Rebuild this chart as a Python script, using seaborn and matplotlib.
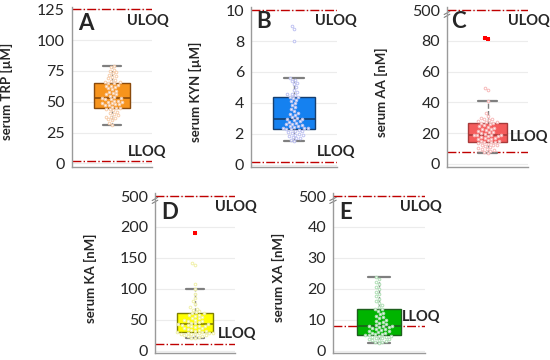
import numpy as np
import pandas as pd
import matplotlib
matplotlib.use("Agg")
import matplotlib.pyplot as plt
import seaborn as sns

# data
trp = [31, 33, 35, 36, 37, 38, 38, 39, 40, 41, 42, 43, 44, 44, 45,
       45, 46, 47, 47, 48, 48, 49, 49, 50, 50, 51, 51, 52, 52, 53,
       53, 54, 55, 56, 56, 57, 58, 59, 60, 61, 62, 63, 63, 64, 65,
       65, 66, 66, 67, 68, 69, 70, 71, 72, 73, 74, 75, 76, 78, 79]
kyn = [1.5, 1.6, 1.7, 1.75, 1.8, 1.85, 1.9, 1.95, 2.0, 2.05, 2.1, 2.15, 2.2, 2.25, 2.3,
       2.3, 2.35, 2.4, 2.4, 2.45, 2.5, 2.5, 2.55, 2.6, 2.65, 2.7, 2.75, 2.8, 2.9, 2.95,
       2.95, 3.0, 3.1, 3.2, 3.3, 3.35, 3.45, 3.6, 3.7, 3.85, 4.0, 4.1, 4.2, 4.3, 4.4,
       4.4, 4.5, 4.55, 4.6, 4.7, 4.8, 5.0, 5.2, 5.3, 5.4, 5.5, 5.6, 8.0, 8.8, 9.0]
aa = [7, 8, 8.5, 9, 9.5, 10, 10.5, 11, 11.5, 12, 12, 12.5, 13, 13.5, 14,
      14, 14.5, 15, 15, 15.5, 16, 16.5, 17, 17, 17.5, 18, 18, 18.5, 19, 19,
      19, 19.5, 20, 20.5, 21, 21.5, 22, 22.5, 23, 23.5, 24, 24.5, 25, 26, 26.5,
      26.5, 27, 27.5, 28, 28.5, 29, 29.5, 30, 31, 33, 41, 48, 49.5, 81, 82]
ka = [20, 21, 22, 23, 24, 25, 25, 26, 27, 27, 28, 28, 29, 29, 30,
      30, 31, 32, 33, 34, 35, 36, 37, 38, 39, 40, 40, 41, 42, 43,
      43, 44, 45, 46, 47, 48, 49, 50, 52, 53, 55, 56, 57, 58, 60,
      60, 62, 64, 66, 68, 70, 75, 80, 85, 92, 100, 107, 138, 141, 191]
xa = [2.3, 2.6, 2.9, 3.1, 3.3, 3.5, 3.7, 3.8, 4.0, 4.2, 4.3, 4.5, 4.7, 4.8, 5.0,
      5.0, 5.2, 5.4, 5.6, 5.8, 6.0, 6.2, 6.4, 6.7, 6.9, 7.1, 7.3, 7.5, 7.7, 7.8,
      7.8, 8.0, 8.3, 8.6, 9.0, 9.3, 9.7, 10.0, 10.4, 10.8, 11.2, 11.7, 12.2, 12.8, 13.3,
      13.3, 14.0, 14.6, 15.3, 16.0, 16.8, 17.5, 18.2, 19.0, 19.8, 20.6, 21.4, 22.2, 23.0, 23.7]

series = [trp, kyn, aa, ka, xa]
letters = ["A", "B", "C", "D", "E"]
y_labels = ["serum TRP [µM]", "serum KYN [µM]", "serum AA [nM]", "serum KA [nM]", "serum XA [nM]"]
lloq = [2, 0.2, 8, 10, 8]
# y ticks; the top tick of C, D, E stands for the ULOQ beyond an axis break
tick_pos = [[0, 25, 50, 75, 100, 125],
            [0, 2, 4, 6, 8, 10],
            [0, 20, 40, 60, 80, 100],
            [0, 50, 100, 150, 200, 250],
            [0, 10, 20, 30, 40, 50]]
tick_labels = [["0", "25", "50", "75", "100", "125"],
               ["0", "2", "4", "6", "8", "10"],
               ["0", "20", "40", "60", "80", "500"],
               ["0", "50", "100", "150", "200", "500"],
               ["0", "10", "20", "30", "40", "500"]]
has_break = [False, False, True, True, True]

# styles
box_colors = ["#F7941D", "#1581F0", "#F45B5B", "#FFFF00", "#00B400"]
edge_colors = ["#8A4A0C", "#163E6E", "#A83A3A", "#7F7F00", "#1E5E1E"]
dot_colors = ["#F6C9A4", "#B9BDF0", "#F7B3B3", "#EFEFA0", "#A9DDB0"]
ylims = [(-3, 127), (-0.15, 10.2), (-2, 102), (-4, 255), (-0.8, 51)]
box_widths = [0.46, 0.48, 0.47, 0.46, 0.47]
# axes rectangles in pixels: left, top, width (height is 160)
rects = [(72, 7, 80), (251, 7, 86), (447, 7, 81), (155, 193, 80), (333, 193, 92)]
label_offset = [59, 49, 59, 58, 48]
uloq_xy = [(0.69, 0.91), (0.74, 0.91), (0.75, 0.91), (0.75, 0.91), (0.73, 0.91)]
lloq_xy = [(0.70, 0.094), (0.77, 0.094), (0.78, 0.19), (0.79, 0.12), (0.75, 0.225)]
letter_xy = [(0.08, 0.90), (0.06, 0.91), (0.05, 0.91), (0.08, 0.88), (0.07, 0.88)]

sns.set_theme(style="white")
plt.rcParams['font.family'] = ['Lato', 'DejaVu Sans']

W, H = 550, 360
fig = plt.figure(figsize=(W / 100, H / 100), dpi=100)

for i, vals in enumerate(series):
    left, top, width = rects[i]
    ax = fig.add_axes([left / W, (H - top - 160) / H, width / W, 160 / H])
    df = pd.DataFrame({"value": vals})

    # light grid
    for t in tick_pos[i]:
        ax.axhline(t, color="#ECECEC", lw=0.8, zorder=0)

    sns.boxplot(data=df, y="value", ax=ax, width=box_widths[i], color=box_colors[i],
                showfliers=False, linewidth=1.0, linecolor=edge_colors[i],
                boxprops=dict(facecolor=box_colors[i], edgecolor=edge_colors[i]),
                medianprops=dict(color=edge_colors[i], linewidth=1.2),
                whiskerprops=dict(color="#7F7F7F", linestyle="--", linewidth=1.0),
                capprops=dict(color="#7F7F7F", linewidth=1.6),
                zorder=2)
    sns.swarmplot(data=df, y="value", ax=ax, size=1.9, color="white",
                  edgecolor=dot_colors[i], linewidth=0.7, alpha=0.9, zorder=3)

    # extreme outliers (beyond 3 x IQR) in red
    q1, q3 = np.percentile(vals, [25, 75])
    extreme = [v for v in vals if v > q3 + 3 * (q3 - q1) or v < q1 - 3 * (q3 - q1)]
    if extreme:
        sns.swarmplot(y=extreme, ax=ax, marker="s", size=2.2, color="#FF0000",
                      linewidth=0, zorder=4)

    # ULOQ / LLOQ lines
    ax.axhline(tick_pos[i][-1], color="#C00000", ls="-.", lw=1.0, zorder=1)
    ax.axhline(lloq[i], color="#C00000", ls="-.", lw=1.0, zorder=1)
    ax.text(*uloq_xy[i], "ULOQ", transform=ax.transAxes, fontsize=10.5,
            fontweight="bold", ha="left", va="center", clip_on=False)
    ax.text(*lloq_xy[i], "LLOQ", transform=ax.transAxes, fontsize=10.5,
            fontweight="bold", ha="left", va="center", clip_on=False)
    ax.text(*letter_xy[i], letters[i], transform=ax.transAxes, fontsize=16,
            fontweight="bold", ha="left", va="center")

    ax.set_xlim(-0.5, 0.5)
    ax.set_ylim(*ylims[i])
    ax.set_yticks(tick_pos[i])
    ax.set_yticklabels(tick_labels[i])
    ax.set_xticks([])
    ax.set_xlabel("")
    ax.set_ylabel(y_labels[i], fontsize=9.5, fontweight="bold")
    ax.yaxis.set_label_coords(-label_offset[i] / width, 0.47)
    ax.tick_params(axis="y", length=0, pad=5, labelsize=11.5)
    for s in ["top", "right"]:
        ax.spines[s].set_visible(False)
    for s in ["left", "bottom"]:
        ax.spines[s].set_color("#9A9A9A")
        ax.spines[s].set_linewidth(1.0)

    # axis break mark on the y axis
    if has_break[i]:
        y0 = 0.935
        for dy in (0.0, 0.018):
            ax.plot([-0.035, 0.035], [y0 + dy, y0 + dy + 0.02], color="#7F7F7F",
                    lw=0.8, transform=ax.transAxes, clip_on=False)

fig.savefig("out.png", dpi=100)
